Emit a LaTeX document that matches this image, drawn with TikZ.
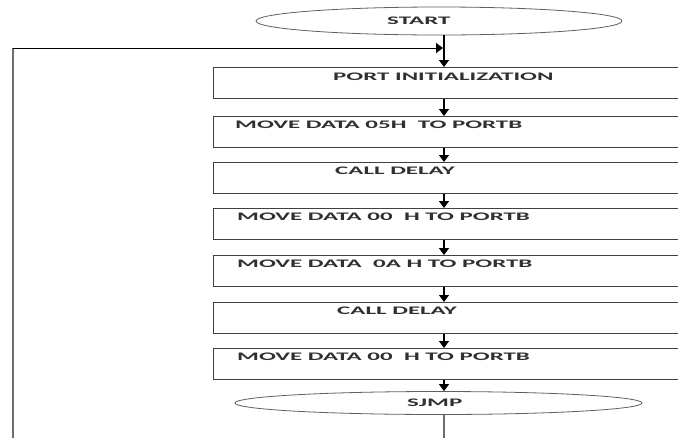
\documentclass[tikz,border=0pt]{standalone}
\usepackage{fontspec}
\setmainfont{Carlito}
\usepackage{graphicx}
\usetikzlibrary{shapes.geometric,arrows.meta}
\definecolor{boxgray}{HTML}{404040}
\definecolor{ovalgray}{HTML}{606060}
\definecolor{loopgray}{HTML}{6E6E6E}
\definecolor{txt}{HTML}{303030}
\newcommand\widetext[1]{\scalebox{2.17}[1]{#1}}
\begin{document}
\begin{tikzpicture}[x=1pt,y=-1pt,
  box/.style={draw=boxgray, line width=0.9pt, rectangle, minimum width=490pt, minimum height=31pt, inner sep=0pt, anchor=north west},
  oval/.style={draw=ovalgray, line width=0.8pt, ellipse, inner sep=0pt},
  lbl/.style={anchor=base west, inner sep=0pt, text=txt, font=\bfseries\fontsize{11.5}{13}\selectfont},
  arr/.style={draw=black, line width=1.2pt, -{Triangle[length=7pt,width=10pt]}},
  grayline/.style={draw=loopgray, line width=1.4pt}]
\useasboundingbox (0,0) rectangle (678,437);
\clip (0,0) rectangle (678,437);
\fill[white] (0,0) rectangle (678,437);
% shapes
\node[oval, minimum width=366pt, minimum height=28pt] (start) at (439,21) {};
\node[box] (b1) at (213,67) {};
\node[box] (b2) at (213,116) {};
\node[box] (b3) at (213,162) {};
\node[box] (b4) at (213,208) {};
\node[box] (b5) at (213,255) {};
\node[box] (b6) at (213,302) {};
\node[box] (b7) at (213,348) {};
\node[oval, minimum width=407pt, minimum height=23pt] (sjmp) at (438.5,403) {};
% labels
\node[lbl] (t0) at (387,24.7) {\widetext{START}};
\node[lbl] (t1) at (333,80.2) {\widetext{PORT INITIALIZATION}};
\node[lbl] (t2) at (235,128.7) {\widetext{MOVE DATA 05H~~TO PORTB}};
\node[lbl] (t3) at (335,174.7) {\widetext{CALL DELAY}};
\node[lbl] (t4) at (237,220.7) {\widetext{MOVE DATA 00~~H TO PORTB}};
\node[lbl] (t5) at (237,267.7) {\widetext{MOVE DATA~~0A H TO PORTB}};
\node[lbl] (t6) at (337,314.7) {\widetext{CALL DELAY}};
\node[lbl] (t7) at (237,360.7) {\widetext{MOVE DATA 00~~H TO PORTB}};
\node[lbl] (t8) at (407,406.7) {\widetext{SJMP}};
% connectors
\coordinate (cx) at (444,0);
\draw[arr] (start.south -| cx) -- (b1.north -| cx);
\draw[arr] (b1.south -| cx) -- (b2.north -| cx);
\draw[arr] (b2.south -| cx) -- (b3.north -| cx);
\draw[arr] (b3.south -| cx) -- (b4.north -| cx);
\draw[arr] (b4.south -| cx) -- (b5.north -| cx);
\draw[arr] (b5.south -| cx) -- (b6.north -| cx);
\draw[arr] (b6.south -| cx) -- (b7.north -| cx);
\draw[arr] (b7.south -| cx) -- (sjmp.north -| cx);
\coordinate (sb) at (444,440);
\draw[grayline] (sjmp.south -| cx) -- (sb);
\coordinate (lb) at (13,440);
\coordinate (lt) at (13,48);
\coordinate (jn) at (443,48);
\draw[grayline] (lb) -- (lt);
\draw[arr, line width=1pt] (lt) -- (jn);
\end{tikzpicture}
\end{document}
